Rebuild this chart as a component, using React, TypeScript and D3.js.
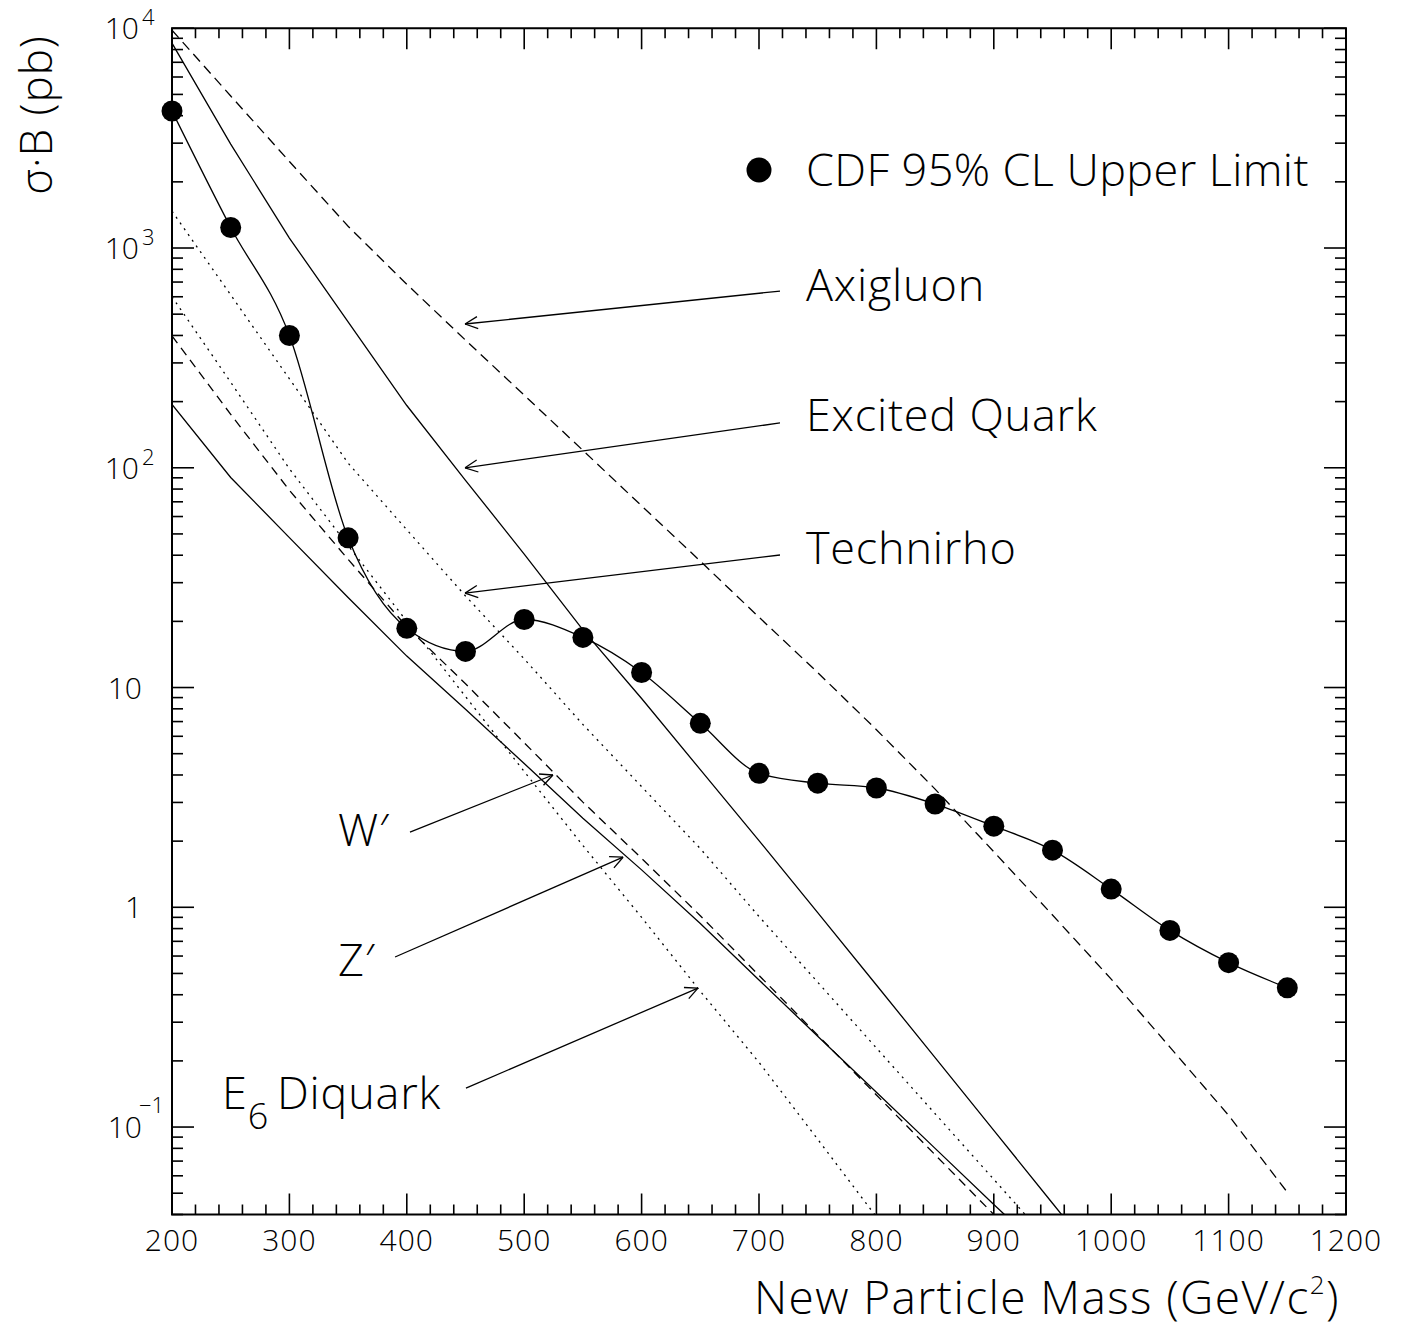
import React, { useEffect, useRef } from 'react';
import * as d3 from 'd3';

// CDF 95% CL upper limit on sigma*B (pb)
const cdfMass = [200, 250, 300, 350, 400, 450, 500, 550, 600, 650, 700, 750, 800, 850, 900, 950, 1000, 1050, 1100, 1150];
const cdfLimit = [4200, 1240, 400, 48, 18.6, 14.6, 20.4, 16.9, 11.7, 6.87, 4.07, 3.67, 3.49, 2.95, 2.34, 1.82, 1.21, 0.785, 0.56, 0.43];

// theory curves, every 50 GeV
const theoryMass = [200, 250, 300, 350, 400, 450, 500, 550, 600, 650, 700, 750, 800, 850, 900, 950, 1000, 1050, 1100, 1150];
const axigluon = [9800, 4920, 2475, 1256, 684, 381, 214, 120, 67.1, 37.6, 20.9, 11.7, 6.43, 3.45, 1.79, 0.922, 0.471, 0.231, 0.113, 0.0505];
const excitedQuark = [8550, 2970, 1110, 461, 192, 87.7, 40.5, 18.3, 8.91, 4.23, 2.01, 0.946, 0.443, 0.207, 0.0966, 0.045, 0.021];
const technirho = [1470, 612, 254, 105, 52.2, 26.1, 13.5, 6.79, 3.54, 1.85, 0.908, 0.456, 0.229, 0.115, 0.0578, 0.029];
const wPrime = [398, 175, 79, 38.3, 18.9, 10.4, 5.61, 3.01, 1.67, 0.916, 0.49, 0.262, 0.14, 0.0748, 0.04, 0.021];
const zPrime = [194, 90.3, 48.1, 25.7, 13.9, 7.97, 4.51, 2.54, 1.48, 0.843, 0.467, 0.259, 0.144, 0.08, 0.0444, 0.025];
const e6Diquark = [600, 245, 98.9, 44.3, 20.0, 9.1, 4.15, 1.91, 0.9, 0.415, 0.197, 0.088, 0.039, 0.018];

const xTickLabels = [200, 300, 400, 500, 600, 700, 800, 900, 1000, 1100, 1200];
const yDecades = [-1, 0, 1, 2, 3, 4];

// labels with arrows: [text, label mass, label sigmaB, tail mass, tail sigmaB, tip mass, tip sigmaB]
const arrowLabels: [string, number, number, number, number, number, number][] = [
  ['Axigluon', 740, 680, 717.9, 637, 449.6, 451],
  ['Excited Quark', 740, 174, 717.9, 160, 449.6, 100],
  ['Technirho', 740, 43.2, 717.9, 40.1, 449.6, 26.9],
  ['W′', 341.4, 2.25, 402.7, 2.2, 524.5, 4.0],
  ['Z′', 341.4, 0.575, 390, 0.594, 584.2, 1.69],
  ['E6', 242.6, 0.143, 450.4, 0.1504, 648, 0.429],
];

const FONT = "'Open Sans', 'DejaVu Sans', sans-serif";

const App = () => {
  const ref = useRef<SVGSVGElement>(null);

  useEffect(() => {
    const width = 1403;
    const height = 1329;
    const svg = d3.select(ref.current);
    svg.selectAll('*').remove();

    const x = d3.scaleLinear().domain([200, 1200]).range([172, 1346]);
    const y = d3.scaleLog().domain([0.04, 1e4]).range([1214.5, 28.25]);
    const [x0, x1] = x.range();
    const [y0, y1] = y.range();

    svg.attr('width', width).attr('height', height)
      .attr('font-family', FONT)
      .attr('font-weight', 300);
    svg.append('rect').attr('width', width).attr('height', height).attr('fill', '#fff');

    svg.append('clipPath').attr('id', 'plot-clip')
      .append('rect')
      .attr('x', x0).attr('y', y1).attr('width', x1 - x0).attr('height', y0 - y1);

    // theory curves
    const theory = [
      { v: axigluon, dash: '10,6' },
      { v: excitedQuark, dash: null },
      { v: technirho, dash: '2,5' },
      { v: wPrime, dash: '9,6' },
      { v: zPrime, dash: null },
      { v: e6Diquark, dash: '2,5' },
    ];
    const line = d3.line<[number, number]>()
      .x(d => x(d[0]))
      .y(d => y(d[1]));
    const gTheory = svg.append('g').attr('clip-path', 'url(#plot-clip)');
    theory.forEach(t => {
      const pts = t.v.map((v, i) => [theoryMass[i], v] as [number, number]);
      gTheory.append('path')
        .attr('d', line(pts))
        .attr('fill', 'none')
        .attr('stroke', '#000')
        .attr('stroke-width', 1.3)
        .attr('stroke-dasharray', t.dash);
    });

    // CDF limit curve and points
    const cdfPts = cdfMass.map((m, i) => [m, cdfLimit[i]] as [number, number]);
    svg.append('path')
      .attr('d', d3.line<[number, number]>().x(d => x(d[0])).y(d => y(d[1])).curve(d3.curveMonotoneX)(cdfPts))
      .attr('fill', 'none')
      .attr('stroke', '#000')
      .attr('stroke-width', 1.3);
    svg.append('g').selectAll('circle')
      .data(cdfPts)
      .enter()
      .append('circle')
      .attr('cx', d => x(d[0]))
      .attr('cy', d => y(d[1]))
      .attr('r', 10.5)
      .attr('fill', '#000');

    // frame
    svg.append('rect')
      .attr('x', x0).attr('y', y1).attr('width', x1 - x0).attr('height', y0 - y1)
      .attr('fill', 'none').attr('stroke', '#000').attr('stroke-width', 2);

    // x ticks (bottom and top, pointing inward)
    const gTicks = svg.append('g').attr('stroke', '#000').attr('stroke-width', 1.6);
    d3.range(200, 1201, 20).forEach(m => {
      const len = m % 100 === 0 ? 21 : 10;
      gTicks.append('line').attr('x1', x(m)).attr('x2', x(m)).attr('y1', y0).attr('y2', y0 - len);
      gTicks.append('line').attr('x1', x(m)).attr('x2', x(m)).attr('y1', y1).attr('y2', y1 + len);
    });
    // y ticks (left and right)
    const yTicks: [number, boolean][] = [];
    for (let e = -2; e <= 4; e++) {
      for (let k = 1; k <= 9; k++) {
        const v = k * Math.pow(10, e);
        if (v >= 0.04 * 0.999 && v <= 1e4 * 1.001) yTicks.push([v, k === 1]);
      }
    }
    yTicks.forEach(([v, major]) => {
      const len = major ? 22 : 11;
      gTicks.append('line').attr('x1', x0).attr('x2', x0 + len).attr('y1', y(v)).attr('y2', y(v));
      gTicks.append('line').attr('x1', x1).attr('x2', x1 - len).attr('y1', y(v)).attr('y2', y(v));
    });

    // x tick labels
    svg.append('g').selectAll('text')
      .data(xTickLabels)
      .enter()
      .append('text')
      .attr('x', d => x(d))
      .attr('y', 1251)
      .attr('text-anchor', 'middle')
      .attr('font-size', 30)
      .attr('letter-spacing', 1)
      .text(d => d);

    // y tick labels
    yDecades.forEach(e => {
      const ty = y(Math.pow(10, e));
      svg.append('text')
        .attr('x', e > 1 ? 139 : 142)
        .attr('y', ty + 11)
        .attr('text-anchor', 'end')
        .attr('font-size', 30)
        .text(e === 0 ? '1' : '10');
      if (e < 0 || e > 1) {
        svg.append('text')
          .attr('x', e < 0 ? 139 : 142)
          .attr('y', e < 0 ? ty - 14 : ty - 3)
          .attr('font-size', 22)
          .text(e < 0 ? '−1' : String(e));
      }
    });

    // axis titles
    const xTitle = svg.append('text')
      .attr('x', 754)
      .attr('y', 1314)
      .attr('font-size', 46)
      .attr('letter-spacing', 1.4);
    xTitle.append('tspan').text('New Particle Mass (GeV/c');
    xTitle.append('tspan').attr('font-size', 26).attr('dy', -20).text('2');
    xTitle.append('tspan').attr('dy', 20).text(')');

    svg.append('text')
      .attr('transform', 'translate(52,115) rotate(-90)')
      .attr('text-anchor', 'middle')
      .attr('font-size', 44)
      .attr('letter-spacing', 1)
      .text('σ·B (pb)');

    // legend
    svg.append('circle')
      .attr('cx', x(700)).attr('cy', y(2265)).attr('r', 12.5).attr('fill', '#000');
    svg.append('text')
      .attr('x', x(740)).attr('y', y(2265))
      .attr('dy', '0.36em')
      .attr('font-size', 45)
      .attr('letter-spacing', 0.4)
      .text('CDF 95% CL Upper Limit');

    // labels with arrows
    arrowLabels.forEach(([label, lm, lv, tm, tv, hm, hv]) => {
      const t = svg.append('text')
        .attr('x', x(lm)).attr('y', y(lv))
        .attr('dy', '0.36em')
        .attr('font-size', 45)
        .attr('letter-spacing', 0.8);
      if (label === 'E6') {
        t.append('tspan').text('E');
        t.append('tspan').attr('font-size', 36).attr('dy', 20).text('6');
        t.append('tspan').attr('dy', -20).attr('dx', 8).text('Diquark');
      } else {
        t.text(label);
      }
      const ax = x(tm), ay = y(tv), bx = x(hm), by = y(hv);
      svg.append('line')
        .attr('x1', ax).attr('y1', ay).attr('x2', bx).attr('y2', by)
        .attr('stroke', '#000').attr('stroke-width', 1.3);
      const ang = Math.atan2(ay - by, ax - bx);
      const head = 14;
      const spread = Math.PI / 7;
      [ang - spread, ang + spread].forEach(a => {
        svg.append('line')
          .attr('x1', bx).attr('y1', by)
          .attr('x2', bx + head * Math.cos(a)).attr('y2', by + head * Math.sin(a))
          .attr('stroke', '#000').attr('stroke-width', 1.3);
      });
    });
  }, []);

  return <svg ref={ref} style={{ position: 'absolute', left: 0, top: 0 }}></svg>;
};

export default App;
